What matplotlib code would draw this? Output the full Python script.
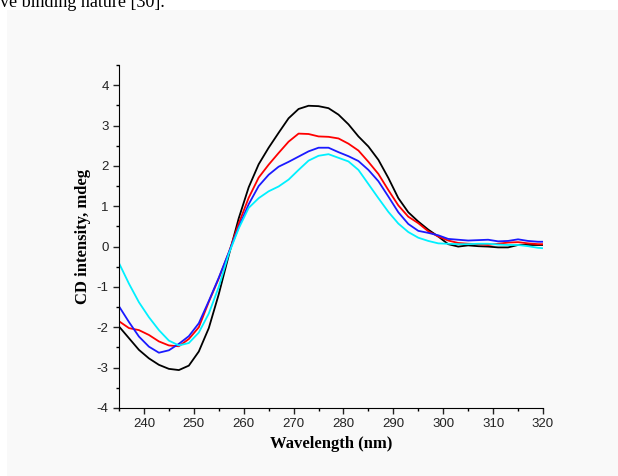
import matplotlib
matplotlib.use("Agg")
import matplotlib.pyplot as plt
from matplotlib.patches import Rectangle
from matplotlib.ticker import MultipleLocator

plt.rcParams["axes.unicode_minus"] = False

# wavelength grid (nm)
wavelength = [235, 237, 239, 241, 243, 245, 247, 249, 251, 253, 255, 257,
              259, 261, 263, 265, 267, 269, 271, 273, 275, 277, 279, 281,
              283, 285, 287, 289, 291, 293, 295, 297, 299, 301, 303, 305,
              307, 309, 311, 313, 315, 317, 319, 320]

cd_black = [-1.98, -2.27, -2.56, -2.77, -2.93, -3.03, -3.06, -2.95, -2.60, -2.02, -1.18, -0.22,
            0.70, 1.47, 2.04, 2.45, 2.82, 3.18, 3.41, 3.49, 3.48, 3.43, 3.27, 3.03,
            2.73, 2.48, 2.15, 1.70, 1.20, 0.85, 0.62, 0.42, 0.25, 0.06, 0.00, 0.03,
            0.01, 0.00, -0.02, -0.02, 0.04, 0.04, 0.04, 0.04]

cd_red = [-1.85, -2.02, -2.07, -2.19, -2.35, -2.45, -2.47, -2.29, -2.00, -1.37, -0.79, -0.15,
          0.57, 1.21, 1.71, 2.03, 2.32, 2.60, 2.80, 2.79, 2.73, 2.72, 2.68, 2.55,
          2.38, 2.10, 1.80, 1.40, 1.02, 0.74, 0.58, 0.38, 0.25, 0.15, 0.09, 0.07,
          0.06, 0.04, 0.07, 0.10, 0.11, 0.08, 0.06, 0.06]

cd_blue = [-1.48, -1.87, -2.23, -2.48, -2.63, -2.57, -2.41, -2.22, -1.90, -1.35, -0.77, -0.15,
           0.48, 1.05, 1.50, 1.78, 1.98, 2.10, 2.23, 2.36, 2.45, 2.45, 2.34, 2.24,
           2.12, 1.90, 1.62, 1.24, 0.85, 0.56, 0.39, 0.34, 0.28, 0.19, 0.17, 0.15,
           0.16, 0.17, 0.13, 0.14, 0.18, 0.14, 0.12, 0.12]

cd_cyan = [-0.41, -0.92, -1.38, -1.75, -2.07, -2.33, -2.45, -2.39, -2.13, -1.66, -1.00, -0.18,
           0.45, 0.96, 1.20, 1.37, 1.49, 1.66, 1.90, 2.13, 2.25, 2.29, 2.20, 2.11,
           1.90, 1.55, 1.20, 0.86, 0.57, 0.36, 0.22, 0.14, 0.08, 0.07, 0.06, 0.06,
           0.07, 0.07, 0.05, 0.04, 0.04, 0.01, -0.03, -0.04]

series = [(cd_black, "black"), (cd_red, "red"), (cd_blue, "#1a1aff"), (cd_cyan, "#00f0ff")]

fig = plt.figure(figsize=(6.18, 4.76), dpi=100, facecolor="white")
# gray panel behind the plot (page crop)
fig.patches.append(Rectangle((7 / 618, 0), 1, 1 - 10 / 476, transform=fig.transFigure,
                             facecolor="#f9f9f9", edgecolor="none", zorder=-1))
fig.text(0.0, 1.012, "ve binding nature [30].", fontsize=13, family="Liberation Serif",
         va="top", ha="left")

ax = fig.add_axes([119 / 618, 1 - 408 / 476, (543 - 119) / 618, (408 - 65) / 476])
ax.patch.set_alpha(0)

for vals, col in series:
    ax.plot(wavelength, vals, color=col, lw=1.3, solid_joinstyle="round")

ax.set_xlim(235, 320)
ax.set_ylim(-4, 4.5)
ax.xaxis.set_major_locator(MultipleLocator(10))
ax.xaxis.set_minor_locator(MultipleLocator(5))
ax.yaxis.set_major_locator(MultipleLocator(1))
ax.yaxis.set_minor_locator(MultipleLocator(0.5))
ax.spines["top"].set_visible(False)
ax.spines["right"].set_visible(False)
ax.tick_params(which="major", length=4, width=1, labelsize=9.5, colors="#222222")
ax.tick_params(which="minor", length=2.5, width=1)
for lab in ax.get_xticklabels() + ax.get_yticklabels():
    lab.set_family("Liberation Sans")

ax.set_xlabel("Wavelength (nm)", family="Liberation Serif", fontweight="bold", fontsize=12)
ax.set_ylabel("CD intensity, mdeg", family="Liberation Serif", fontweight="bold", fontsize=12)

fig.savefig("out.png", dpi=100)
